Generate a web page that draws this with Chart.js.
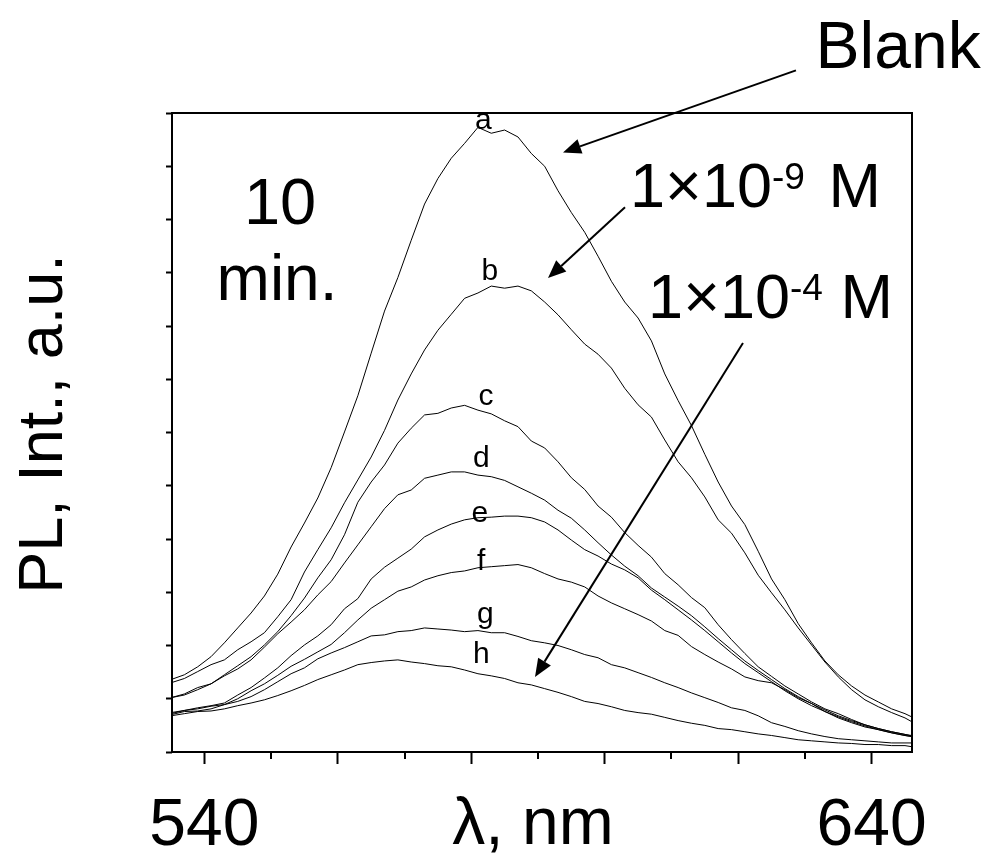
<!DOCTYPE html>
<html>
<head>
<meta charset="utf-8">
<script src="https://cdn.jsdelivr.net/npm/chart.js@4.4.1/dist/chart.umd.min.js"></script>
<style>
html,body{margin:0;padding:0;background:#fff;}
canvas{display:block;}
</style>
</head>
<body>
<canvas id="c" width="981" height="853"></canvas>
<script>
// ---------- DATA ----------
const wavelengths = [535,537,539,541,543,545,547,549,551,553,555,557,559,561,563,565,567,569,571,573,
  575,577,579,581,583,585,587,589,591,593,595,597,599,601,603,605,607,609,611,613,
  615,617,619,621,623,625,627,629,631,633,635,637,639,641,643,645,646];

const curveA = [1.36,1.45,1.60,1.79,2.05,2.33,2.61,2.93,3.34,3.85,4.30,4.77,5.34,6.01,6.69,7.49,8.28,8.91,9.61,10.29,
  10.77,11.15,11.43,11.73,11.62,11.68,11.55,11.24,11.00,10.54,10.13,9.76,9.31,8.84,8.45,8.15,7.72,7.10,6.60,6.13,
  5.59,5.07,4.62,4.27,3.77,3.25,2.86,2.41,2.05,1.71,1.45,1.24,1.07,0.94,0.81,0.72,0.66];
const curveB = [1.30,1.38,1.51,1.64,1.73,1.92,2.07,2.24,2.54,2.86,3.38,3.80,4.21,4.68,5.11,5.54,6.04,6.61,7.10,7.55,
  7.92,8.22,8.52,8.62,8.75,8.71,8.75,8.66,8.45,8.21,7.93,7.66,7.47,7.21,6.83,6.52,6.29,5.86,5.45,5.15,
  4.79,4.36,4.11,3.74,3.32,2.99,2.67,2.33,2.01,1.69,1.41,1.17,0.98,0.85,0.74,0.64,0.57];
const curveC = [1.02,1.09,1.21,1.28,1.45,1.62,1.79,2.01,2.26,2.56,2.89,3.27,3.61,4.08,4.69,5.07,5.39,5.80,6.08,6.33,
  6.36,6.46,6.51,6.42,6.35,6.22,6.11,5.84,5.71,5.45,5.15,4.93,4.62,4.41,4.12,3.88,3.66,3.35,3.14,2.90,
  2.71,2.39,2.11,1.85,1.60,1.42,1.24,1.09,0.94,0.81,0.72,0.61,0.51,0.44,0.38,0.33,0.30];
const curveD = [1.02,1.07,1.17,1.28,1.43,1.56,1.73,1.97,2.22,2.44,2.67,2.95,3.20,3.55,3.89,4.23,4.57,4.83,4.92,5.14,
  5.20,5.26,5.26,5.20,5.17,5.10,4.98,4.86,4.73,4.54,4.39,4.17,3.93,3.70,3.49,3.31,3.08,2.91,2.74,2.56,
  2.35,2.13,1.92,1.71,1.53,1.36,1.19,1.04,0.91,0.79,0.68,0.59,0.51,0.44,0.38,0.33,0.31];
const curveE = [0.74,0.78,0.83,0.87,0.92,1.07,1.21,1.39,1.58,1.81,2.01,2.18,2.39,2.69,2.88,3.25,3.47,3.64,3.81,4.04,
  4.17,4.28,4.36,4.40,4.41,4.43,4.43,4.40,4.32,4.17,3.98,3.80,3.68,3.53,3.42,3.27,3.04,2.86,2.67,2.48,
  2.28,2.07,1.86,1.66,1.49,1.32,1.15,1.00,0.87,0.76,0.66,0.57,0.49,0.42,0.36,0.31,0.29];
const curveF = [0.72,0.78,0.81,0.86,0.89,1.00,1.15,1.28,1.44,1.61,1.74,1.88,2.02,2.24,2.48,2.70,2.86,3.02,3.10,3.23,
  3.31,3.37,3.40,3.46,3.48,3.50,3.52,3.46,3.35,3.25,3.19,3.10,2.93,2.80,2.69,2.58,2.46,2.28,2.19,1.98,
  1.83,1.69,1.56,1.41,1.34,1.30,1.17,1.02,0.91,0.76,0.64,0.55,0.47,0.42,0.36,0.31,0.29];
const curveG = [0.70,0.76,0.77,0.81,0.89,0.95,1.04,1.17,1.32,1.47,1.58,1.75,1.86,1.96,2.07,2.18,2.20,2.26,2.28,2.33,
  2.31,2.29,2.26,2.28,2.24,2.24,2.17,2.09,2.05,2.00,1.92,1.83,1.77,1.64,1.58,1.49,1.40,1.30,1.21,1.11,
  1.02,0.93,0.83,0.78,0.68,0.55,0.48,0.40,0.34,0.29,0.25,0.23,0.21,0.19,0.17,0.17,0.17];
const curveH = [0.68,0.72,0.76,0.77,0.81,0.87,0.92,0.98,1.06,1.15,1.25,1.36,1.45,1.54,1.64,1.68,1.71,1.73,1.69,1.66,
  1.62,1.60,1.54,1.47,1.43,1.38,1.30,1.26,1.19,1.12,1.04,0.95,0.91,0.85,0.78,0.74,0.71,0.65,0.59,0.54,
  0.50,0.44,0.42,0.38,0.34,0.31,0.27,0.23,0.21,0.19,0.17,0.16,0.14,0.14,0.12,0.12,0.10];

const seriesNames = ['a','b','c','d','e','f','g','h'];
const seriesValues = [curveA, curveB, curveC, curveD, curveE, curveF, curveG, curveH];

const xTickValues = [540,550,560,570,580,590,600,610,620,630,640];
const xMajorTicks = [540,560,580,600,620,640];
const xLabeledTicks = [540,640];
const yTickValues = [0,1,2,3,4,5,6,7,8,9,10,11,12];

const FONT = '"Liberation Sans", Arial, Helvetica, sans-serif';

// ---------- ANNOTATIONS (data coordinates) ----------
const curveLabels = [
  {t:'a', x:581.8, y:11.70}, {t:'b', x:582.8, y:8.86}, {t:'c', x:582.2, y:6.52},
  {t:'d', x:581.5, y:5.35}, {t:'e', x:581.3, y:4.32}, {t:'f', x:581.5, y:3.42},
  {t:'g', x:582.1, y:2.43}, {t:'h', x:581.5, y:1.68}
];
const arrows = [
  {from:[628.66,12.80], to:[593.75,11.26]},
  {from:[603.04,10.23], to:[591.50,8.90]},
  {from:[620.72,7.68],  to:[589.55,1.41]}
];

function drawArrow(ctx, x1, y1, x2, y2) {
  const ang = Math.atan2(y2 - y1, x2 - x1);
  const L = 18, W = 7.5;
  const bx = x2 - L * Math.cos(ang), by = y2 - L * Math.sin(ang);
  ctx.lineWidth = 2;
  ctx.beginPath(); ctx.moveTo(x1, y1); ctx.lineTo(bx, by); ctx.stroke();
  ctx.beginPath();
  ctx.moveTo(x2, y2);
  ctx.lineTo(bx + W * Math.sin(ang), by - W * Math.cos(ang));
  ctx.lineTo(bx - W * Math.sin(ang), by + W * Math.cos(ang));
  ctx.closePath(); ctx.fill();
}

function drawSci(ctx, X, Y, base, exp, tail, size, gap) {
  ctx.textAlign = 'left'; ctx.textBaseline = 'alphabetic';
  ctx.font = size + 'px ' + FONT;
  ctx.fillText(base, X, Y);
  let w = ctx.measureText(base).width;
  const sup = Math.round(size * 0.59);
  ctx.font = sup + 'px ' + FONT;
  ctx.fillText(exp, X + w, Y - size * 0.29);
  w += ctx.measureText(exp).width;
  ctx.font = size + 'px ' + FONT;
  ctx.fillText(tail, X + w + gap, Y);
}

const overlay = {
  id: 'overlay',
  beforeDraw(chart) {
    const ctx = chart.ctx;
    ctx.save(); ctx.fillStyle = '#fff'; ctx.fillRect(0, 0, chart.width, chart.height); ctx.restore();
  },
  afterDraw(chart) {
    const ctx = chart.ctx, ca = chart.chartArea, xs = chart.scales.x, ys = chart.scales.y;
    const px = v => xs.getPixelForValue(v), py = v => ys.getPixelForValue(v);
    ctx.save();
    ctx.strokeStyle = '#000'; ctx.fillStyle = '#000';
    // frame
    ctx.lineWidth = 2;
    ctx.strokeRect(ca.left, ca.top, ca.right - ca.left, ca.bottom - ca.top);
    // minor x ticks
    ctx.beginPath();
    xTickValues.filter(v => !xMajorTicks.includes(v)).forEach(v => {
      const X = Math.round(px(v));
      ctx.moveTo(X, ca.bottom); ctx.lineTo(X, ca.bottom + 7);
    });
    ctx.stroke();
    // arrows
    arrows.forEach(a => drawArrow(ctx, px(a.from[0]), py(a.from[1]), px(a.to[0]), py(a.to[1])));
    // curve labels
    ctx.textAlign = 'center'; ctx.textBaseline = 'alphabetic';
    ctx.font = '30px ' + FONT;
    curveLabels.forEach(l => ctx.fillText(l.t, px(l.x), py(l.y)));
    // big texts
    ctx.font = '66px ' + FONT;
    ctx.textAlign = 'left';
    ctx.fillText('Blank', px(631.6), py(12.84));
    ctx.textAlign = 'center';
    ctx.font = '65px ' + FONT;
    ctx.fillText('10', px(551.34), py(9.91));
    ctx.font = '64px ' + FONT;
    ctx.fillText('min.', px(550.89), py(8.49));
    drawSci(ctx, px(603.8), py(10.23), '1×10', '-9', ' M', 63, 6);
    drawSci(ctx, px(606.5), py(8.15), '1×10', '-4', ' M', 63, 0);
    // axis titles
    ctx.font = '66px ' + FONT;
    ctx.textAlign = 'center'; ctx.textBaseline = 'alphabetic';
    ctx.fillText('λ, nm', 533, 844);
    ctx.save();
    ctx.translate(62, 424);
    ctx.rotate(-Math.PI / 2);
    ctx.font = '63px ' + FONT;
    ctx.fillText('PL, Int., a.u.', 0, 0);
    ctx.restore();
    ctx.restore();
  }
};

new Chart(document.getElementById('c'), {
  type: 'line',
  data: {
    datasets: seriesNames.map((n, k) => ({
      label: n,
      data: wavelengths.map((w, i) => ({x: w, y: seriesValues[k][i]})),
      borderColor: '#000',
      borderWidth: 1,
      pointRadius: 0,
      fill: false,
      tension: 0
    }))
  },
  options: {
    responsive: false,
    devicePixelRatio: 1,
    animation: false,
    layout: {padding: {left: 72, right: 69, top: 113, bottom: 0}},
    plugins: {legend: {display: false}, tooltip: {enabled: false}},
    scales: {
      x: {
        type: 'linear', min: 535.15, max: 646.05,
        afterBuildTicks: s => { s.ticks = xTickValues.map(v => ({value: v})); },
        afterFit: s => { s.height = 101; },
        grid: {
          drawOnChartArea: false, drawTicks: true, tickLength: 12, tickWidth: 2,
          tickColor: c => (c.tick && xMajorTicks.includes(c.tick.value)) ? '#000' : 'rgba(0,0,0,0)'
        },
        border: {display: false},
        ticks: {
          autoSkip: false, maxRotation: 0, minRotation: 0, padding: 23, color: '#000',
          font: {family: FONT, size: 66},
          callback: v => xLabeledTicks.includes(v) ? String(v) : ''
        }
      },
      y: {
        type: 'linear', min: 0, max: 12,
        afterBuildTicks: s => { s.ticks = yTickValues.map(v => ({value: v})); },
        afterFit: s => { s.width = 100; },
        grid: {drawOnChartArea: false, drawTicks: true, tickLength: 6, tickWidth: 2, tickColor: '#000'},
        border: {display: false},
        ticks: {display: false}
      }
    }
  },
  plugins: [overlay]
});
</script>
</body>
</html>
